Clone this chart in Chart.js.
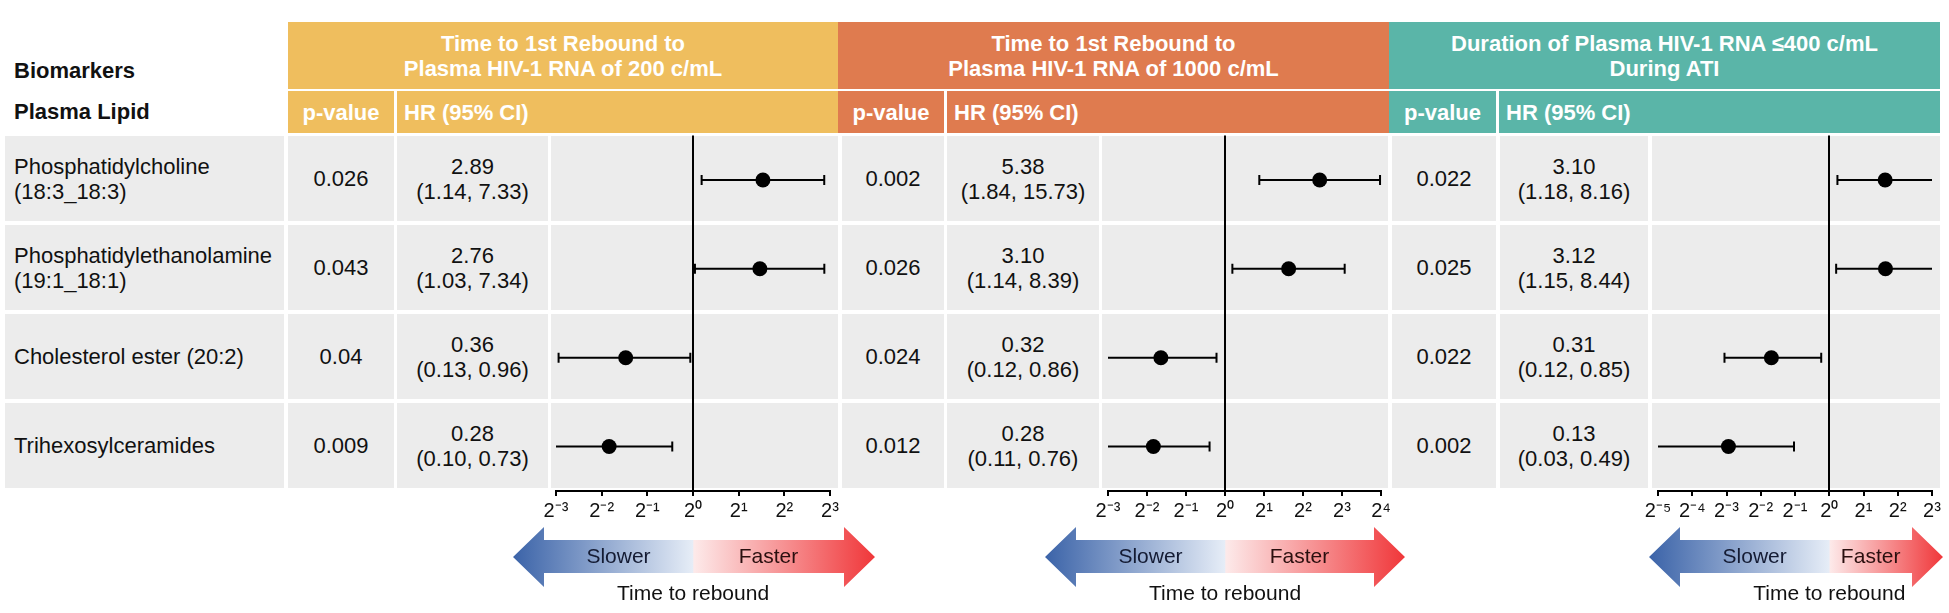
<!DOCTYPE html>
<html lang="en">
<head>
<meta charset="UTF-8">
<title>Plasma lipids and time to viral rebound</title>
<script src="https://cdn.jsdelivr.net/npm/chart.js@4.4.1/dist/chart.umd.min.js"></script>
<style>
  * { box-sizing: border-box; margin: 0; padding: 0; }
  body { width: 1949px; height: 613px; background: #fff; overflow: hidden;
         font-family: "Liberation Sans", Arial, sans-serif; color: #111; }
  #figure { position: relative; width: 1949px; height: 613px; }
  .box { position: absolute; display: flex; align-items: center; }
  .head { color: #fff; font-weight: bold; font-size: 22px; line-height: 25px;
          justify-content: center; text-align: center; }
  .left { justify-content: flex-start; text-align: left; padding-left: 7px; }
  .cell { background: #ececec; font-size: 22px; line-height: 25px;
          justify-content: center; text-align: center; }
  .label { justify-content: flex-start; text-align: left; padding-left: 9px; }
  .bold { font-weight: bold; font-size: 22px; color: #111; }
  canvas { position: absolute; }
</style>
</head>
<body>
<div id="figure"></div>
<script>
  // ---- data ----
  const biomarkers = [
    ['Phosphatidylcholine', '(18:3_18:3)'],
    ['Phosphatidylethanolamine', '(19:1_18:1)'],
    ['Cholesterol ester (20:2)'],
    ['Trihexosylceramides']
  ];
  const outcomeTitles = [
    ['Time to 1st Rebound to', 'Plasma HIV-1 RNA of 200 c/mL'],
    ['Time to 1st Rebound to', 'Plasma HIV-1 RNA of 1000 c/mL'],
    ['Duration of Plasma HIV-1 RNA \u2264400 c/mL', 'During ATI']
  ];

  const pValues200 = [0.026, 0.043, 0.04, 0.009];
  const hr200 = [2.89, 2.76, 0.36, 0.28];
  const lower200 = [1.14, 1.03, 0.13, 0.10];
  const upper200 = [7.33, 7.34, 0.96, 0.73];

  const pValues1000 = [0.002, 0.026, 0.024, 0.012];
  const hr1000 = [5.38, 3.10, 0.32, 0.28];
  const lower1000 = [1.84, 1.14, 0.12, 0.11];
  const upper1000 = [15.73, 8.39, 0.86, 0.76];

  const pValues400 = [0.022, 0.025, 0.022, 0.002];
  const hr400 = [3.10, 3.12, 0.31, 0.13];
  const lower400 = [1.18, 1.15, 0.12, 0.03];
  const upper400 = [8.16, 8.44, 0.85, 0.49];

  // x axis ticks are powers of two
  const tickPowers200 = [-3, -2, -1, 0, 1, 2, 3];
  const tickPowers1000 = [-3, -2, -1, 0, 1, 2, 3, 4];
  const tickPowers400 = [-5, -4, -3, -2, -1, 0, 1, 2, 3];

  const panels = [
    { title: outcomeTitles[0], p: pValues200, hr: hr200, lo: lower200, hi: upper200, powers: tickPowers200 },
    { title: outcomeTitles[1], p: pValues1000, hr: hr1000, lo: lower1000, hi: upper1000, powers: tickPowers1000 },
    { title: outcomeTitles[2], p: pValues400, hr: hr400, lo: lower400, hi: upper400, powers: tickPowers400 }
  ];

  // ---- layout / styling ----
  const headerColors = ['#efbe5e', '#df7b4f', '#5ab5a8'];
  const rowTop = 136, rowPitch = 89, rowHeight = 85;
  const cols = [
    { head: [288, 838], subP: [288, 394], subHR: [397, 838], p: [288, 394], hr: [397, 548], plot: [551, 838],
      canvas: [500, 400], axis: [556, 830], arrow: [-43, 45] },
    { head: [838, 1389], subP: [838, 944], subHR: [947, 1389], p: [842, 944], hr: [947, 1099], plot: [1102, 1388],
      canvas: [1030, 400], axis: [1108, 1381], arrow: [-63, 24] },
    { head: [1389, 1940], subP: [1389, 1496], subHR: [1499, 1940], p: [1392, 1496], hr: [1500, 1648], plot: [1652, 1940],
      canvas: [1630, 319], axis: [1658, 1932], arrow: [-9, 11] }
  ];
  const FONT = '"Liberation Sans", Arial, sans-serif';
  const fig = document.getElementById('figure');

  function box(x0, x1, y0, y1, cls, html, bg) {
    const d = document.createElement('div');
    d.className = 'box ' + cls;
    d.style.left = x0 + 'px';
    d.style.width = (x1 - x0) + 'px';
    d.style.top = y0 + 'px';
    d.style.height = (y1 - y0) + 'px';
    if (bg) d.style.background = bg;
    d.innerHTML = '<span>' + html + '</span>';
    fig.appendChild(d);
    return d;
  }

  // left header + label column
  box(5, 284, 50, 92, 'label bold', 'Biomarkers');
  box(5, 284, 91, 133, 'label bold', 'Plasma Lipid');
  biomarkers.forEach((lines, i) => {
    const y = rowTop + i * rowPitch;
    box(5, 284, y, y + rowHeight, 'cell label', lines.join('<br>'));
  });

  // table part of each panel
  panels.forEach((pn, k) => {
    const c = cols[k];
    box(c.head[0], c.head[1], 22, 89, 'head', pn.title.join('<br>'), headerColors[k]);
    box(c.subP[0], c.subP[1], 91, 133, 'head', 'p-value', headerColors[k]);
    box(c.subHR[0], c.subHR[1], 91, 133, 'head left', 'HR (95% CI)', headerColors[k]);
    pn.hr.forEach((v, i) => {
      const y = rowTop + i * rowPitch;
      box(c.p[0], c.p[1], y, y + rowHeight, 'cell', String(pn.p[i]));
      box(c.hr[0], c.hr[1], y, y + rowHeight, 'cell',
          v.toFixed(2) + '<br>(' + pn.lo[i].toFixed(2) + ', ' + pn.hi[i].toFixed(2) + ')');
      box(c.plot[0], c.plot[1], y, y + rowHeight, 'cell', '');
    });
  });

  const SUP = { '-': '\u207B', '0': '\u2070', '1': '\u00B9', '2': '\u00B2', '3': '\u00B3', '4': '\u2074', '5': '\u2075' };
  const sup = n => String(n).split('').map(ch => SUP[ch]).join('');

  // confidence interval whiskers, drawn under the points
  const whiskers = {
    id: 'whiskers',
    beforeDatasetsDraw(chart) {
      const { ctx, chartArea: a, scales: { x } } = chart;
      const meta = chart.getDatasetMeta(0);
      const raw = chart.data.datasets[0].data;
      ctx.save();
      ctx.strokeStyle = '#000';
      ctx.lineWidth = 2;
      meta.data.forEach((pt, i) => {
        const y = pt.y;
        const x0 = x.getPixelForValue(raw[i].lo);
        const x1 = x.getPixelForValue(raw[i].hi);
        ctx.beginPath();
        ctx.moveTo(Math.max(x0, a.left), y);
        ctx.lineTo(Math.min(x1, a.right), y);
        if (x0 >= a.left) { ctx.moveTo(x0, y - 5); ctx.lineTo(x0, y + 5); }
        if (x1 <= a.right) { ctx.moveTo(x1, y - 5); ctx.lineTo(x1, y + 5); }
        ctx.stroke();
      });
      ctx.restore();
    }
  };

  // "Slower / Faster" arrow under the axis, split at HR = 1
  const rebound = {
    id: 'rebound',
    afterDraw(chart, args, opts) {
      const { ctx, chartArea: a, scales: { x } } = chart;
      const xc = x.getPixelForValue(1);
      const x0 = a.left + opts.padL, x1 = a.right + opts.padR;
      const yb = a.bottom, head = 31;
      const hTop = yb + 36, bTop = yb + 49, bBot = yb + 82, hBot = yb + 96, mid = yb + 66;
      const t = (xc - x0) / (x1 - x0);
      const g = ctx.createLinearGradient(x0, 0, x1, 0);
      g.addColorStop(0, '#3b63a8');
      g.addColorStop(t, '#e6edf7');
      g.addColorStop(Math.min(1, t + 0.002), '#fdeaea');
      g.addColorStop(1, '#f0373a');
      ctx.save();
      ctx.fillStyle = g;
      ctx.beginPath();
      ctx.moveTo(x0, mid);
      ctx.lineTo(x0 + head, hTop);
      ctx.lineTo(x0 + head, bTop);
      ctx.lineTo(x1 - head, bTop);
      ctx.lineTo(x1 - head, hTop);
      ctx.lineTo(x1, mid);
      ctx.lineTo(x1 - head, hBot);
      ctx.lineTo(x1 - head, bBot);
      ctx.lineTo(x0 + head, bBot);
      ctx.lineTo(x0 + head, hBot);
      ctx.closePath();
      ctx.fill();
      ctx.font = '21px ' + FONT;
      ctx.textAlign = 'center';
      ctx.textBaseline = 'middle';
      ctx.fillStyle = '#141b33';
      ctx.fillText('Slower', (x0 + head + xc) / 2, mid);
      ctx.fillStyle = '#2a0f0f';
      ctx.fillText('Faster', (xc + x1 - head) / 2, mid);
      ctx.fillStyle = '#111';
      ctx.fillText('Time to rebound', xc, yb + 103);
      ctx.restore();
    }
  };

  const rowKeys = biomarkers.map(b => b.join(' '));

  panels.forEach((pn, k) => {
    const c = cols[k];
    const canvas = document.createElement('canvas');
    const top = 128, height = 613 - top;
    canvas.width = c.canvas[1];
    canvas.height = height;
    canvas.style.left = c.canvas[0] + 'px';
    canvas.style.top = top + 'px';
    fig.appendChild(canvas);

    const powers = pn.powers;
    new Chart(canvas.getContext('2d'), {
      type: 'scatter',
      data: {
        datasets: [{
          data: pn.hr.map((v, i) => ({ x: v, y: rowKeys[i], lo: pn.lo[i], hi: pn.hi[i] })),
          backgroundColor: '#000',
          borderColor: '#000',
          borderWidth: 0,
          pointRadius: 7.5,
          pointHoverRadius: 7.5
        }]
      },
      options: {
        responsive: false,
        animation: false,
        layout: {
          padding: {
            left: c.axis[0] - c.canvas[0],
            right: c.canvas[0] + c.canvas[1] - c.axis[1],
            top: 6,
            bottom: height - (491 - top) - 6 - 30 + 6
          }
        },
        plugins: {
          legend: { display: false },
          tooltip: { enabled: false },
          rebound: { padL: c.arrow[0], padR: c.arrow[1] }
        },
        scales: {
          x: {
            type: 'logarithmic',
            min: Math.pow(2, powers[0]),
            max: Math.pow(2, powers[powers.length - 1]),
            afterBuildTicks: s => { s.ticks = powers.map(p => ({ value: Math.pow(2, p) })); },
            afterFit: s => { s.height = 30; },
            ticks: {
              autoSkip: false,
              maxRotation: 0,
              padding: 3,
              color: '#111',
              font: { family: FONT, size: 20 },
              callback: (v, i) => '2' + sup(powers[i])
            },
            grid: {
              color: ctx => (ctx.tick && ctx.tick.value === 1 ? '#000' : 'rgba(0,0,0,0)'),
              lineWidth: 2,
              tickColor: '#000',
              tickWidth: 2,
              tickLength: 5
            },
            border: { display: true, color: '#000', width: 2 }
          },
          y: { type: 'category', labels: rowKeys, offset: true, display: false }
        }
      },
      plugins: [whiskers, rebound]
    });
  });
</script>
</body>
</html>
